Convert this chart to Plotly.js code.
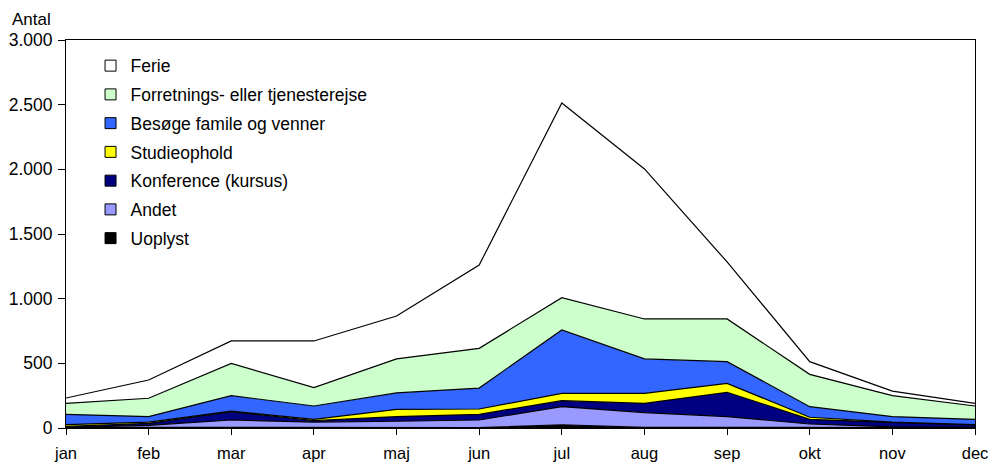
<!DOCTYPE html>
<html>
<head>
<meta charset="utf-8">
<script src="https://cdn.plot.ly/plotly-3.0.1.min.js"></script>
<style>html,body{margin:0;padding:0;background:#fff;}#chart{width:991px;height:465px;}</style>
</head>
<body>
<div id="chart"></div>
<script>
const months = ['jan','feb','mar','apr','maj','jun','jul','aug','sep','okt','nov','dec'];

const uoplyst = [5, 5, 3, 3, 3, 3, 25, 5, 5, 5, 3, 3];
const andet = [0, 16, 59, 43, 49, 59, 140, 114, 83, 26, 5, 2];
const konference = [7, 15, 64, 11, 36, 44, 46, 72, 188, 36, 36, 19];
const studieophold = [14, 10, 5, 10, 56, 41, 57, 77, 69, 16, 2, 2];
const besoege = [80, 42, 119, 103, 127, 162, 490, 266, 168, 82, 42, 41];
const forretning = [85, 142, 250, 142, 263, 307, 250, 309, 330, 250, 162, 103];
const ferie = [41, 141, 173, 361, 332, 644, 1505, 1160, 441, 98, 35, 21];

const yTickVals = [0, 500, 1000, 1500, 2000, 2500, 3000];
const yTickText = ['0', '500', '1.000', '1.500', '2.000', '2.500', '3.000'];

const series = [
  {name: 'Uoplyst', y: uoplyst, color: '#000000'},
  {name: 'Andet', y: andet, color: '#9999ff'},
  {name: 'Konference (kursus)', y: konference, color: '#000080'},
  {name: 'Studieophold', y: studieophold, color: '#ffff00'},
  {name: 'Besøge famile og venner', y: besoege, color: '#3366ff'},
  {name: 'Forretnings- eller tjenesterejse', y: forretning, color: '#ccffcc'},
  {name: 'Ferie', y: ferie, color: '#ffffff'}
];

const traces = [];
series.forEach((s) => {
  traces.push({
    type: 'scatter', mode: 'lines', x: months, y: s.y,
    stackgroup: 'one', fill: 'tonexty', fillcolor: s.color,
    line: {color: '#000000', width: 1.2, shape: 'linear'},
    showlegend: false, hoverinfo: 'skip', name: s.name
  });
});
series.slice().reverse().forEach((s, i) => {
  traces.push({
    type: 'scatter', mode: 'markers', x: [null], y: [null],
    name: s.name, legendgroup: 'g' + i, showlegend: true,
    marker: {symbol: 'square', size: 11, color: s.color, line: {color: '#000000', width: 1}}
  });
});

const layout = {
  width: 991, height: 465,
  margin: {l: 66, r: 16, t: 40, b: 37},
  paper_bgcolor: '#ffffff', plot_bgcolor: '#ffffff',
  font: {family: 'Liberation Sans, Arial, sans-serif', size: 16, color: '#000'},
  showlegend: true,
  legend: {
    x: 0.027, y: 0.98, xanchor: 'left', yanchor: 'top',
    traceorder: 'grouped', tracegroupgap: 3,
    font: {size: 17.5, color: '#000'}, bgcolor: 'rgba(0,0,0,0)', itemwidth: 30
  },
  xaxis: {
    type: 'category', range: [0, 11], showgrid: false, zeroline: false,
    showline: true, linecolor: '#000', linewidth: 1, mirror: true,
    ticks: 'outside', ticklen: 6, tickcolor: '#000',
    ticklabelstandoff: 4,
    tickfont: {size: 16.5}
  },
  yaxis: {
    range: [0, 3000], tickvals: yTickVals, ticktext: yTickText,
    showgrid: false, zeroline: false,
    showline: true, linecolor: '#000', linewidth: 1, mirror: true,
    ticks: 'outside', ticklen: 7, tickcolor: '#000',
    ticklabelstandoff: 2,
    tickfont: {size: 17.5}
  },
  annotations: [{
    text: 'Antal', xref: 'paper', yref: 'paper', x: -0.062, y: 1.0, yshift: 21,
    xanchor: 'left', yanchor: 'middle', showarrow: false, font: {size: 17}
  }]
};

Plotly.newPlot('chart', traces, layout, {displayModeBar: false, staticPlot: true});
</script>
</body>
</html>
